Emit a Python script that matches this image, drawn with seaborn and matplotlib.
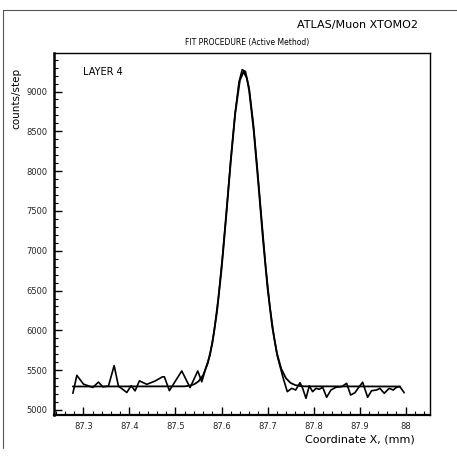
import numpy as np
import pandas as pd
import matplotlib
matplotlib.use("Agg")
import matplotlib.pyplot as plt
from matplotlib.ticker import MultipleLocator
import seaborn as sns

# measured data (coordinate in mm, counts/step)
data_x = [87.2770, 87.2857, 87.3000, 87.3204, 87.3326, 87.3421, 87.3543, 87.3667,
          87.3760, 87.3942, 87.4036, 87.4122, 87.4216, 87.4376, 87.4557, 87.4715,
          87.4759, 87.4867, 87.5136, 87.5317, 87.5484, 87.5571,
          87.566, 87.575, 87.584, 87.593, 87.602, 87.611, 87.620, 87.629, 87.638,
          87.645, 87.652, 87.660, 87.669, 87.678, 87.687, 87.696, 87.705, 87.714,
          87.722, 87.733,
          87.7429, 87.7524, 87.7611, 87.7705, 87.7763, 87.7835, 87.7907, 87.7980,
          87.8052, 87.8124, 87.8198, 87.8284, 87.8378, 87.8486, 87.8610, 87.8719,
          87.8805, 87.8899, 87.8992, 87.9066, 87.9175, 87.9261, 87.9370, 87.9442,
          87.9535, 87.9643, 87.9730, 87.9804, 87.9876, 87.9969]
data_y = [5210, 5435, 5325, 5283, 5350, 5291, 5300, 5558,
          5300, 5220, 5305, 5240, 5366, 5322, 5364, 5416,
          5416, 5243, 5490, 5281, 5490, 5354,
          5530, 5690, 5990, 6400, 6920, 7520, 8140, 8700, 9120,
          9275, 9250, 9040, 8600, 8020, 7400, 6800, 6300, 5920,
          5660, 5420,
          5230, 5272, 5251, 5343, 5272, 5147, 5302, 5230,
          5272, 5260, 5285, 5160, 5251, 5285, 5293, 5335,
          5188, 5217, 5293, 5348, 5160, 5242, 5251, 5272,
          5210, 5272, 5251, 5285, 5293, 5217]

# fitted curve
fit_x = [87.277, 87.520, 87.530, 87.540, 87.550, 87.560, 87.570, 87.580, 87.590,
         87.600, 87.610, 87.620, 87.630, 87.640, 87.648, 87.655, 87.660, 87.670,
         87.680, 87.690, 87.700, 87.710, 87.720, 87.730, 87.740, 87.750, 87.760,
         87.770, 87.780, 87.988]
fit_y = [5295, 5297, 5305, 5321, 5359, 5437, 5584, 5836, 6226,
         6763, 7421, 8118, 8736, 9143, 9250, 9167, 9013, 8507,
         7841, 7148, 6531, 6052, 5721, 5514, 5399, 5340, 5313,
         5302, 5297, 5295]

x_ticks = [87.3, 87.4, 87.5, 87.6, 87.7, 87.8, 87.9, 88.0]
x_tick_labels = ["87.3", "87.4", "87.5", "87.6", "87.7", "87.8", "87.9", "88"]
y_ticks = [5000, 5500, 6000, 6500, 7000, 7500, 8000, 8500, 9000]

sns.set_theme(style="white")
plt.rcParams["font.family"] = ["DejaVu Sans"]

fig = plt.figure(figsize=(4.57, 4.57), dpi=100)
ax = fig.add_axes([54 / 457, 42 / 457, 376 / 457, 361.7 / 457])

df_data = pd.DataFrame({"x": data_x, "y": data_y})
df_fit = pd.DataFrame({"x": fit_x, "y": fit_y})
sns.lineplot(data=df_fit, x="x", y="y", ax=ax, color="black", lw=1.3,
             estimator=None, sort=False)
sns.lineplot(data=df_data, x="x", y="y", ax=ax, color="black", lw=1.2,
             estimator=None, sort=False)

ax.set_xlim(87.236, 88.053)
ax.set_ylim(4937, 9480)
ax.set_xticks(x_ticks)
ax.set_xticklabels(x_tick_labels)
ax.set_yticks(y_ticks)
ax.xaxis.set_minor_locator(MultipleLocator(0.02))
ax.yaxis.set_minor_locator(MultipleLocator(100))
ax.tick_params(axis="both", which="major", direction="in", length=6, width=1,
               labelsize=6, color="black", pad=5, bottom=True, left=True)
ax.tick_params(axis="both", which="minor", direction="in", length=3, width=0.8,
               color="black", bottom=True, left=True)
for s in ax.spines.values():
    s.set_color("black")
    s.set_linewidth(1.0)
ax.spines["left"].set_linewidth(1.8)
ax.spines["bottom"].set_linewidth(1.6)
ax.set_xlabel("")
ax.set_ylabel("")

fig.text(418 / 457, 1 - 25 / 457, "ATLAS/Muon XTOMO2", ha="right", va="center",
         fontsize=8, color="black")
fig.text(247 / 457, 1 - 43 / 457, "FIT PROCEDURE (Active Method)", ha="center",
         va="center", fontsize=5.5, color="black")
ax.text(83 / 457, 1 - 72 / 457, "LAYER 4", transform=fig.transFigure, ha="left",
        va="center", fontsize=7, color="black")
fig.text(16 / 457, 1 - 98 / 457, "counts/step", rotation=90, ha="center",
         va="center", fontsize=7.5, color="black")
fig.text(415 / 457, 1 - 439 / 457, "Coordinate X, (mm)", ha="right", va="center",
         fontsize=8, color="black")

# scanned page border (top and left)
fig.add_artist(plt.Line2D([3 / 457, 1], [1 - 10 / 457, 1 - 10 / 457],
                          transform=fig.transFigure, color="#555555", lw=0.8))
fig.add_artist(plt.Line2D([3 / 457, 3 / 457], [1 - 10 / 457, 0.02],
                          transform=fig.transFigure, color="#555555", lw=0.8))

fig.savefig("out.png", dpi=100)
